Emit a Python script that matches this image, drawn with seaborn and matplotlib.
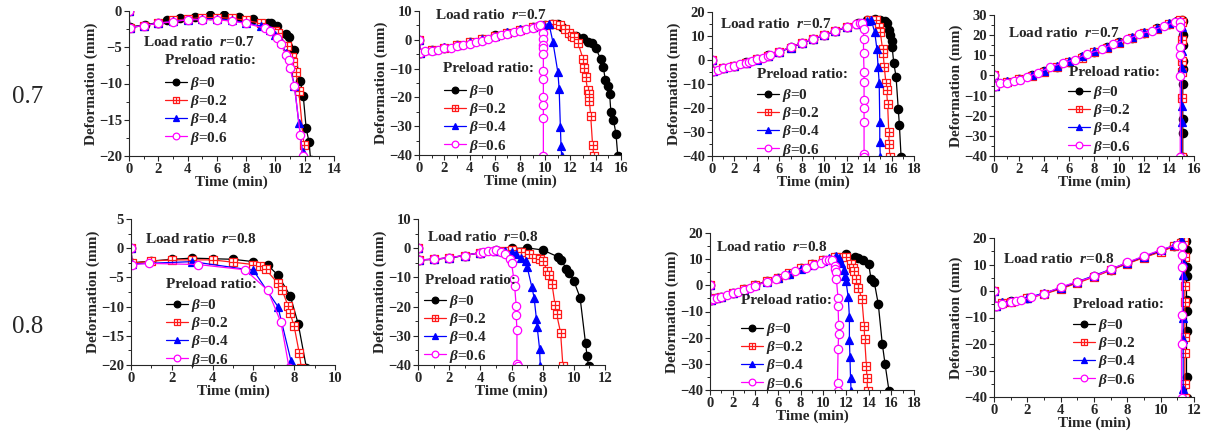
import numpy as np
import pandas as pd
import matplotlib
matplotlib.use("Agg")
import matplotlib.pyplot as plt
import seaborn as sns
from matplotlib.path import Path
from matplotlib.ticker import MultipleLocator, AutoMinorLocator

# ---------------- data ----------------
betas = ["0", "0.2", "0.4", "0.6"]
row_labels = ["0.7", "0.8"]

# Row r=0.7, column A
tA7_0 = [0, 0.05, 1.1, 2.0, 2.6, 3.5, 4.5, 5.5, 6.5, 7.5, 8.5, 9.5, 9.7, 10.1, 10.7, 10.9, 11.3, 11.7, 11.9, 12.1, 12.3, 12.4]
dA7_0 = [0, -2.2, -1.9, -1.6, -1.3, -1.0, -0.8, -0.6, -0.6, -0.8, -1.1, -1.6, -1.7, -2.1, -3.2, -3.6, -5.4, -9.7, -11.7, -16.2, -18.1, -20.5]
tA7_2 = [0, 0.05, 1.0, 2.0, 3.0, 4.0, 5.0, 6.0, 7.0, 8.0, 9.0, 10.0, 10.2, 10.8, 11.1, 11.2, 11.4, 11.6, 11.95, 12.05]
dA7_2 = [0, -2.3, -2.0, -1.7, -1.3, -1.1, -0.9, -0.9, -1.0, -1.3, -1.7, -2.8, -3.1, -4.8, -6.4, -7.0, -8.4, -11.1, -18.5, -20.5]
tA7_4 = [0, 0.05, 1.0, 2.0, 3.0, 4.0, 5.0, 6.0, 7.0, 8.0, 9.0, 9.6, 10.0, 10.4, 10.7, 11.0, 11.3, 11.6, 11.85, 11.95]
dA7_4 = [0, -2.3, -2.0, -1.7, -1.4, -1.2, -1.1, -1.1, -1.3, -1.6, -2.1, -2.6, -3.3, -4.3, -5.8, -7.6, -10.3, -15.5, -19.5, -20.5]
tA7_6 = [0, 0.05, 1.0, 2.0, 3.0, 4.0, 5.0, 6.0, 7.0, 8.0, 9.3, 9.6, 10.1, 10.4, 10.7, 10.9, 11.0, 11.3, 11.7, 11.85, 11.95]
dA7_6 = [0, -2.3, -2.0, -1.7, -1.5, -1.2, -1.2, -1.2, -1.4, -1.7, -2.4, -2.7, -3.7, -4.5, -6.0, -6.8, -7.9, -10.4, -17.1, -20.0, -21.0]

# Row r=0.7, column B
tB7_0 = [0, 0.1, 1.0, 2.0, 3.0, 4.0, 5.0, 6.0, 7.0, 8.0, 9.0, 10.0, 10.5, 11.0, 11.3, 12.0, 12.45, 13.0, 13.4, 13.7, 14.0, 14.4, 14.6, 14.75, 14.95, 15.1, 15.2, 15.4, 15.6, 15.75]
dB7_0 = [0, -4.5, -3.5, -2.7, -1.8, -0.8, 0.3, 1.5, 2.5, 3.5, 4.5, 5.3, 5.6, 5.4, 4.6, 1.9, 1.4, 0.6, -0.9, -1.2, -3.0, -6.7, -9.3, -13.9, -16.0, -18.9, -25.2, -27.8, -32.6, -40.5]
tB7_2 = [0, 0.1, 1.0, 2.0, 3.0, 4.0, 5.0, 6.0, 7.0, 8.0, 9.0, 10.0, 10.6, 11.2, 11.6, 11.9, 12.1, 12.3, 12.6, 13.0, 13.1, 13.2, 13.35, 13.45, 13.5, 13.6, 13.75, 13.85]
dB7_2 = [0, -4.5, -3.6, -2.8, -1.9, -0.9, 0.2, 1.4, 2.5, 3.4, 4.5, 5.2, 5.6, 5.0, 3.6, 2.2, 1.4, 0.8, -1.2, -6.7, -9.8, -13.0, -17.4, -18.9, -21.4, -26.4, -36.6, -40.5]
tB7_4 = [0, 0.1, 1.0, 2.0, 3.0, 4.0, 5.0, 6.0, 7.0, 8.0, 9.0, 9.8, 10.3, 10.6, 11.0, 11.1, 11.2, 11.25, 11.3]
dB7_4 = [0, -4.5, -3.4, -2.6, -1.7, -0.9, 0.3, 1.4, 2.6, 3.6, 4.5, 5.3, 5.5, -0.6, -11.3, -17.0, -30.4, -37.0, -40.5]
tB7_6 = [0, 0.1, 0.5, 1.0, 1.5, 2.0, 2.5, 3.0, 3.5, 4.0, 4.5, 5.0, 5.5, 6.0, 6.5, 7.0, 7.5, 8.0, 8.5, 9.0, 9.4, 9.6, 9.8, 9.8, 9.82, 9.82, 9.85, 9.85, 9.85, 9.85, 9.85, 9.85, 9.85]
dB7_6 = [0, -4.5, -4.0, -3.8, -3.4, -3.0, -2.7, -2.3, -1.8, -1.4, -0.8, -0.3, 0.3, 0.8, 1.5, 2.0, 2.6, 3.1, 3.6, 4.2, 4.8, 5.0, 2.3, 0.2, -1.7, -2.9, -4.9, -10.7, -13.7, -19.9, -22.6, -27.3, -40.5]

# Row r=0.7, column C
tC7_0 = [0, 0.1, 1.0, 2.0, 3.0, 4.0, 5.0, 6.0, 7.0, 8.0, 9.0, 10.0, 11.0, 12.0, 13.0, 13.8, 14.5, 15.0, 15.4, 15.6, 15.8, 15.9, 16.0, 16.05, 16.2, 16.4, 16.6, 16.7, 16.85]
dC7_0 = [0, -4.5, -3.3, -2.3, -1.0, 0.4, 1.9, 3.5, 5.3, 7.2, 8.9, 10.5, 12.2, 13.8, 15.3, 16.5, 17.0, 16.8, 16.2, 15.3, 12.5, 10.5, 8.0, 5.5, -1.4, -6.9, -20.6, -27.2, -40.5]
tC7_2 = [0, 0.1, 1.0, 2.0, 3.0, 4.0, 5.0, 6.0, 7.0, 8.0, 9.0, 10.0, 11.0, 12.0, 13.0, 14.0, 14.6, 14.9, 15.0, 15.2, 15.25, 15.35, 15.5, 15.55, 15.65, 15.75, 15.78, 15.85]
dC7_2 = [0, -4.5, -3.4, -2.4, -1.1, 0.3, 1.8, 3.4, 5.2, 7.1, 8.8, 10.4, 12.1, 13.7, 15.2, 16.5, 16.8, 13.6, 11.5, 4.4, 2.8, -2.8, -9.7, -12.5, -18.5, -29.9, -35.0, -40.5]
tC7_4 = [0, 0.1, 1.0, 2.0, 3.0, 4.0, 5.0, 6.0, 7.0, 8.0, 9.0, 10.0, 11.0, 12.0, 13.0, 13.8, 14.2, 14.5, 14.7, 14.8, 14.9, 14.95, 14.95, 15.0]
dC7_4 = [0, -4.5, -3.5, -2.6, -1.2, 0.2, 1.7, 3.3, 5.1, 7.0, 8.7, 10.3, 12.0, 13.6, 15.0, 16.2, 16.5, 11.5, 4.4, -2.8, -9.7, -25.7, -34.0, -40.5]
tC7_6 = [0, 0.1, 0.5, 1.0, 1.5, 2.0, 2.5, 3.0, 3.3, 3.6, 4.0, 4.5, 5.0, 5.2, 6.0, 7.0, 8.0, 9.0, 10.0, 11.0, 12.0, 12.8, 13.2, 13.4, 13.5, 13.5, 13.5, 13.55, 13.55, 13.55, 13.55, 13.55, 13.55, 13.55]
dC7_6 = [0, -4.5, -4.2, -3.5, -3.0, -2.5, -1.8, -1.2, -0.8, -0.3, 0.3, 1.0, 1.8, 2.2, 3.5, 5.3, 7.2, 8.9, 10.5, 12.2, 13.8, 15.0, 15.6, 15.3, 12.8, 8.6, 3.0, -4.9, -9.0, -16.7, -20.0, -26.0, -39.0, -40.5]

# Row r=0.7, column D
tD7_0 = [0, 0.1, 1.0, 2.0, 3.0, 4.0, 5.0, 6.0, 7.0, 8.0, 9.0, 10.0, 11.0, 12.0, 13.0, 14.0, 14.6, 15.0, 15.1, 15.1, 15.1, 15.1, 15.1, 15.1, 15.1, 15.1, 15.1]
dD7_0 = [0, -5.0, -3.3, -1.8, 0.0, 2.1, 4.3, 6.7, 9.1, 11.6, 14.0, 16.4, 18.8, 21.1, 23.4, 25.6, 27.0, 27.5, 27.0, 20.0, 15.0, 7.0, 3.0, -4.5, -21.5, -28.5, -40.5]
tD7_2 = [0, 0.1, 1.0, 2.0, 3.0, 4.0, 5.0, 6.0, 7.0, 8.0, 9.0, 10.0, 11.0, 12.0, 13.0, 14.0, 14.9, 15.05, 15.05, 15.05, 15.05, 15.05, 15.05]
dD7_2 = [0, -5.0, -3.4, -2.0, -0.2, 1.9, 4.1, 6.5, 8.9, 11.4, 13.8, 16.2, 18.6, 20.9, 23.2, 25.4, 27.3, 26.5, 17.5, 7.0, 1.5, -11.0, -40.5]
tD7_4 = [0, 0.1, 1.0, 2.0, 3.0, 4.0, 5.0, 6.0, 7.0, 8.0, 9.0, 10.0, 11.0, 12.0, 13.0, 14.0, 14.9, 15.0, 15.0, 15.0, 15.0, 15.0, 15.0]
dD7_4 = [0, -5.0, -3.0, -1.6, 0.3, 2.4, 4.6, 7.0, 9.4, 11.9, 14.3, 16.7, 19.1, 21.4, 23.7, 25.8, 27.0, 24.0, 12.0, 3.5, -15.0, -23.0, -40.5]
tD7_6 = [0, 0.1, 0.5, 1.0, 1.6, 2.1, 2.6, 3.5, 4.5, 5.5, 6.5, 7.4, 8.6, 9.5, 10.6, 11.6, 12.6, 13.6, 14.5, 14.9, 14.9, 14.9, 14.9, 14.9, 14.9]
dD7_6 = [0, -5.0, -4.0, -3.6, -2.8, -2.3, -1.0, 1.3, 4.0, 6.3, 7.9, 10.6, 12.9, 15.6, 17.9, 20.4, 22.2, 24.5, 26.5, 26.5, 24.0, 14.0, 10.0, -0.5, -40.5]

# Row r=0.8, column A
tA8_0 = [0, 0.05, 1.0, 2.0, 3.0, 4.0, 5.0, 6.0, 6.7, 7.2, 7.8, 8.2, 8.6]
dA8_0 = [0, -2.5, -2.2, -1.9, -1.7, -1.8, -1.9, -2.3, -2.9, -4.6, -8.1, -13.0, -20.5]
tA8_2 = [0, 0.05, 1.0, 2.0, 3.0, 4.0, 5.0, 6.0, 6.3, 6.6, 7.2, 7.4, 7.7, 7.8, 8.0, 8.25, 8.35]
dA8_2 = [0, -2.6, -2.2, -2.0, -2.0, -2.0, -2.4, -2.8, -3.1, -3.6, -6.0, -7.1, -9.9, -11.1, -13.4, -18.0, -20.5]
tA8_4 = [0, 0.05, 3.0, 6.0, 7.2, 7.85, 7.9]
dA8_4 = [0, -2.7, -2.3, -3.8, -10.0, -19.4, -20.5]
tA8_6 = [0, 0.05, 0.9, 3.3, 5.6, 6.7, 7.35, 7.75]
dA8_6 = [0, -2.8, -2.6, -2.8, -3.7, -7.2, -12.7, -20.5]

# Row r=0.8, column B
tB8_0 = [0, 0.05, 1.0, 2.0, 3.0, 4.0, 5.0, 6.0, 7.0, 8.0, 9.0, 9.2, 9.5, 9.7, 10.0, 10.4, 10.75, 10.85, 10.95]
dB8_0 = [0, -4.0, -3.8, -3.3, -2.5, -1.5, -0.7, -0.1, 0.1, -0.6, -3.0, -4.0, -7.0, -8.5, -11.2, -16.9, -32.5, -37.0, -40.5]
tB8_2 = [0, 0.05, 1.0, 2.0, 3.0, 4.0, 5.0, 5.5, 6.0, 6.6, 7.1, 7.6, 7.8, 8.0, 8.3, 8.4, 8.6, 8.8, 8.9, 9.15, 9.3]
dB8_2 = [0, -4.0, -3.8, -3.3, -2.5, -1.5, -0.8, -0.8, -0.7, -1.4, -1.9, -3.2, -3.6, -4.4, -7.7, -9.2, -12.3, -19.6, -22.7, -28.9, -40.5]
tB8_4 = [0, 0.05, 1.0, 2.0, 3.0, 4.0, 5.0, 5.6, 6.0, 6.3, 6.6, 6.9, 7.0, 7.3, 7.45, 7.6, 7.65, 7.8, 7.85]
dB8_4 = [0, -4.0, -3.8, -3.3, -2.5, -1.5, -0.8, -0.9, -1.4, -2.0, -3.5, -4.3, -6.3, -13.2, -16.9, -24.3, -27.1, -34.4, -40.5]
tB8_6 = [0, 0.05, 1.0, 2.0, 3.0, 4.0, 4.2, 4.5, 4.8, 5.0, 5.3, 5.6, 5.9, 6.0, 6.15, 6.2, 6.3, 6.3, 6.35, 6.35, 6.4]
dB8_6 = [0, -4.0, -3.8, -3.2, -2.5, -1.5, -1.4, -1.1, -0.9, -0.7, -1.2, -1.9, -3.7, -5.0, -10.6, -13.0, -19.7, -22.8, -28.1, -39.8, -40.5]

# Row r=0.8, column C
tC8_0 = [0, 0.1, 0.5, 1.0, 2.0, 3.0, 4.0, 5.0, 6.0, 7.0, 8.0, 9.0, 10.0, 11.0, 12.0, 12.8, 13.1, 13.5, 14.0, 14.2, 14.5, 14.85, 15.2, 15.45, 15.8]
dC8_0 = [0, -5.5, -5.0, -4.4, -3.0, -1.5, 0.1, 1.5, 2.8, 4.5, 6.5, 8.0, 9.5, 10.8, 11.8, 10.7, 10.3, 9.8, 8.2, 2.6, 1.1, -7.2, -22.3, -30.2, -40.5]
tC8_2 = [0, 0.1, 0.5, 1.0, 2.0, 3.0, 4.0, 5.0, 6.0, 7.0, 8.0, 9.0, 10.0, 11.0, 11.5, 12.0, 12.4, 12.6, 12.7, 12.85, 13.1, 13.4, 13.6, 13.65, 13.8, 13.85, 13.9]
dC8_2 = [0, -5.5, -5.0, -4.3, -2.9, -1.4, 0.2, 1.6, 2.9, 4.6, 6.5, 8.1, 9.6, 10.8, 10.9, 10.7, 8.3, 6.5, 5.5, 2.6, -1.1, -5.1, -15.5, -20.5, -31.0, -35.5, -40.5]
tC8_4 = [0, 0.1, 0.5, 1.0, 2.0, 3.0, 4.0, 5.0, 6.0, 7.0, 8.0, 9.0, 10.0, 10.5, 11.1, 11.4, 11.6, 11.8, 11.9, 12.0, 12.2, 12.3, 12.3, 12.35, 12.4, 12.45]
dC8_4 = [0, -5.5, -4.9, -4.4, -3.1, -1.6, 0.0, 1.4, 2.7, 4.4, 6.3, 7.9, 9.4, 10.3, 11.1, 10.3, 8.5, 6.0, 3.5, 1.5, -4.6, -12.0, -21.0, -27.5, -35.5, -40.5]
tC8_6 = [0, 0.1, 0.3, 0.6, 1.0, 1.5, 2.0, 2.5, 3.0, 3.5, 4.0, 5.0, 5.8, 6.6, 7.5, 8.5, 9.2, 9.8, 10.2, 10.5, 10.8, 11.0, 11.05, 11.1, 11.15, 11.3, 11.3, 11.35, 11.35, 11.3, 11.25, 11.25]
dC8_6 = [0, -5.5, -5.2, -4.8, -4.3, -3.8, -3.1, -2.5, -1.7, -1.0, -0.2, 1.4, 2.6, 3.8, 5.3, 6.8, 7.8, 8.7, 9.5, 9.8, 9.6, 7.5, 6.3, 5.0, 2.5, -5.0, -8.0, -15.0, -18.5, -24.5, -37.5, -40.5]

# Row r=0.8, column D
tD8_0 = [0, 0.1, 0.5, 1.0, 2.0, 3.0, 4.0, 5.0, 6.0, 7.0, 8.0, 9.0, 10.0, 10.8, 11.2, 11.5, 11.55, 11.55, 11.55, 11.55, 11.55, 11.55, 11.55, 11.55]
dD8_0 = [0, -5.5, -4.5, -3.9, -2.7, -1.0, 1.0, 3.3, 5.5, 8.0, 10.5, 12.8, 15.0, 17.0, 18.5, 19.0, 15.5, 9.0, 5.5, -3.5, -7.5, -15.0, -32.5, -40.5]
tD8_2 = [0, 0.1, 0.5, 1.0, 2.0, 3.0, 4.0, 5.0, 6.0, 7.0, 8.0, 9.0, 10.0, 10.8, 11.2, 11.4, 11.45, 11.45, 11.45, 11.45, 11.45, 11.45, 11.45]
dD8_2 = [0, -5.5, -4.6, -4.0, -2.8, -1.2, 0.8, 3.0, 5.3, 7.8, 10.3, 12.6, 14.8, 16.8, 18.3, 19.0, 13.0, 2.0, -4.0, -17.5, -23.5, -35.0, -40.5]
tD8_4 = [0, 0.1, 0.5, 1.0, 2.0, 3.0, 4.0, 5.0, 6.0, 7.0, 8.0, 9.0, 10.0, 10.8, 11.2, 11.3, 11.35, 11.35, 11.35, 11.35, 11.35, 11.35]
dD8_4 = [0, -5.5, -4.3, -3.8, -2.5, -0.8, 1.2, 3.5, 5.8, 8.2, 10.7, 13.0, 15.3, 17.2, 18.7, 19.0, 11.0, 6.0, -10.0, -18.0, -37.0, -40.5]
tD8_6 = [0, 0.1, 0.5, 1.0, 1.3, 1.6, 2.2, 3.0, 4.0, 5.0, 6.0, 7.0, 8.0, 9.0, 10.0, 11.0, 11.25, 11.3, 11.3, 11.3, 11.25, 11.25]
dD8_6 = [0, -5.5, -4.8, -4.2, -3.8, -3.4, -2.4, -1.0, 1.5, 3.5, 5.5, 8.2, 10.8, 13.2, 15.5, 17.5, 17.0, 13.5, 9.0, -9.0, -20.0, -40.5]

# axis ranges / ticks per panel
xmax_list = [14, 16, 18, 16, 10, 12, 18, 12]
ylim_list = [(-20, 0), (-40, 10), (-40, 20), (-40, 30), (-20, 5), (-40, 10), (-40, 20), (-40, 20)]
ystep_list = [5, 10, 10, 10, 5, 10, 10, 10]

series = [
    [(tA7_0, dA7_0), (tA7_2, dA7_2), (tA7_4, dA7_4), (tA7_6, dA7_6)],
    [(tB7_0, dB7_0), (tB7_2, dB7_2), (tB7_4, dB7_4), (tB7_6, dB7_6)],
    [(tC7_0, dC7_0), (tC7_2, dC7_2), (tC7_4, dC7_4), (tC7_6, dC7_6)],
    [(tD7_0, dD7_0), (tD7_2, dD7_2), (tD7_4, dD7_4), (tD7_6, dD7_6)],
    [(tA8_0, dA8_0), (tA8_2, dA8_2), (tA8_4, dA8_4), (tA8_6, dA8_6)],
    [(tB8_0, dB8_0), (tB8_2, dB8_2), (tB8_4, dB8_4), (tB8_6, dB8_6)],
    [(tC8_0, dC8_0), (tC8_2, dC8_2), (tC8_4, dC8_4), (tC8_6, dC8_6)],
    [(tD8_0, dD8_0), (tD8_2, dD8_2), (tD8_4, dD8_4), (tD8_6, dD8_6)],
]
load_ratios = ["0.7"] * 4 + ["0.8"] * 4

# ---------------- layout (pixels) ----------------
W, H = 1205, 434
boxes = [  # left, top, right, bottom
    (129, 11, 334, 156), (419, 11, 621, 155), (712, 12, 914, 156), (994, 15, 1194, 156),
    (131, 219, 335, 365), (418, 219, 605, 365), (710, 233, 914, 390), (994, 238, 1194, 397),
]
load_txt_pos = [(143, 42), (435, 15), (720, 24), (1008, 33), (145, 239), (427, 237), (716, 247), (1003, 259)]
title_pos = [(165, 61), (443, 69), (757, 75), (1069, 73), (166, 284), (425, 281), (741, 300), (1073, 305)]
row1_pos = [(165, 81), (444, 89), (757, 93), (1068, 90), (166, 303), (424, 299), (741, 327), (1073, 323)]

FS = 11

sns.set_style("ticks")
plt.rcParams["font.family"] = ["Liberation Serif", "DejaVu Serif"]
plt.rcParams["font.weight"] = "bold"
plt.rcParams["mathtext.fontset"] = "custom"
plt.rcParams["mathtext.rm"] = "Liberation Serif:bold"
plt.rcParams["mathtext.it"] = "Liberation Serif:italic:bold"
plt.rcParams["mathtext.bf"] = "Liberation Serif:bold"
plt.rcParams["mathtext.bfit"] = "Liberation Serif:bold:italic"

sq_cross = Path(
    [(-1, -1), (1, -1), (1, 1), (-1, 1), (-1, -1), (0, -1), (0, 1), (-1, 0), (1, 0)],
    [Path.MOVETO, Path.LINETO, Path.LINETO, Path.LINETO, Path.CLOSEPOLY,
     Path.MOVETO, Path.LINETO, Path.MOVETO, Path.LINETO],
)
MS = 6
styles = [
    dict(color="black", marker="o", markerfacecolor="black", markeredgecolor="black", markersize=MS),
    dict(color="#ff1a1a", marker=sq_cross, markerfacecolor="white", markeredgecolor="#ff1a1a", markersize=MS - 0.5),
    dict(color="#0000ff", marker="^", markerfacecolor="#0000ff", markeredgecolor="#0000ff", markersize=MS),
    dict(color="#ff00ff", marker="o", markerfacecolor="white", markeredgecolor="#ff00ff", markersize=MS),
]

fig = plt.figure(figsize=(W / 100, H / 100), dpi=100)

for i in range(8):
    l, t, r, b = boxes[i]
    ax = fig.add_axes([l / W, 1 - b / H, (r - l) / W, (b - t) / H])
    for j, (tt, dd) in enumerate(series[i]):
        df = pd.DataFrame({"Time": tt, "Def": dd})
        sns.lineplot(data=df, x="Time", y="Def", ax=ax, sort=False, estimator=None,
                     linewidth=0.9, markeredgewidth=0.9,
                     label=r"$\mathbfit{\beta}$=" + betas[j], **styles[j])
    ax.set_xlim(0, xmax_list[i])
    ax.set_ylim(*ylim_list[i])
    ax.xaxis.set_major_locator(MultipleLocator(2))
    ax.yaxis.set_major_locator(MultipleLocator(ystep_list[i]))
    ax.xaxis.set_minor_locator(AutoMinorLocator(2))
    ax.yaxis.set_minor_locator(AutoMinorLocator(2))
    ax.tick_params(which="major", direction="out", length=3.5, width=0.8, labelsize=10.5, pad=1.5)
    ax.tick_params(which="minor", direction="out", length=2, width=0.7)
    for lab in ax.get_xticklabels() + ax.get_yticklabels():
        lab.set_fontweight("bold")
    sns.despine(ax=ax)
    for s in ("left", "bottom"):
        ax.spines[s].set_linewidth(0.8)
    ax.set_xlabel("Time (min)", fontsize=FS, fontweight="bold", labelpad=0)
    ax.set_ylabel("Deformation (mm)", fontsize=FS, fontweight="bold", labelpad=1)

    h, lbl = ax.get_legend_handles_labels()
    lx, ly = row1_pos[i]
    ax.legend(h, lbl, loc="upper left",
              bbox_to_anchor=(lx / W, 1 - (ly - 6) / H), bbox_transform=fig.transFigure,
              frameon=False, borderpad=0, borderaxespad=0, handlelength=1.45,
              handletextpad=0.2, labelspacing=0.08, markerscale=0.8,
              prop={"size": FS, "weight": "bold"})

    px, py = title_pos[i]
    fig.text(px / W, 1 - py / H, "Preload ratio:", ha="left", va="center",
             fontsize=FS, fontweight="bold")

    tx, ty = load_txt_pos[i]
    fig.text(tx / W, 1 - ty / H, "Load ratio  $\\mathbfit{r}$=" + load_ratios[i],
             ha="left", va="center", fontsize=FS, fontweight="bold")

for k, rl in enumerate(row_labels):
    fig.text(28 / W, 1 - (97 if k == 0 else 327) / H, rl, ha="center", va="center",
             fontsize=18, fontweight="normal")

fig.savefig("out.png", dpi=100)
